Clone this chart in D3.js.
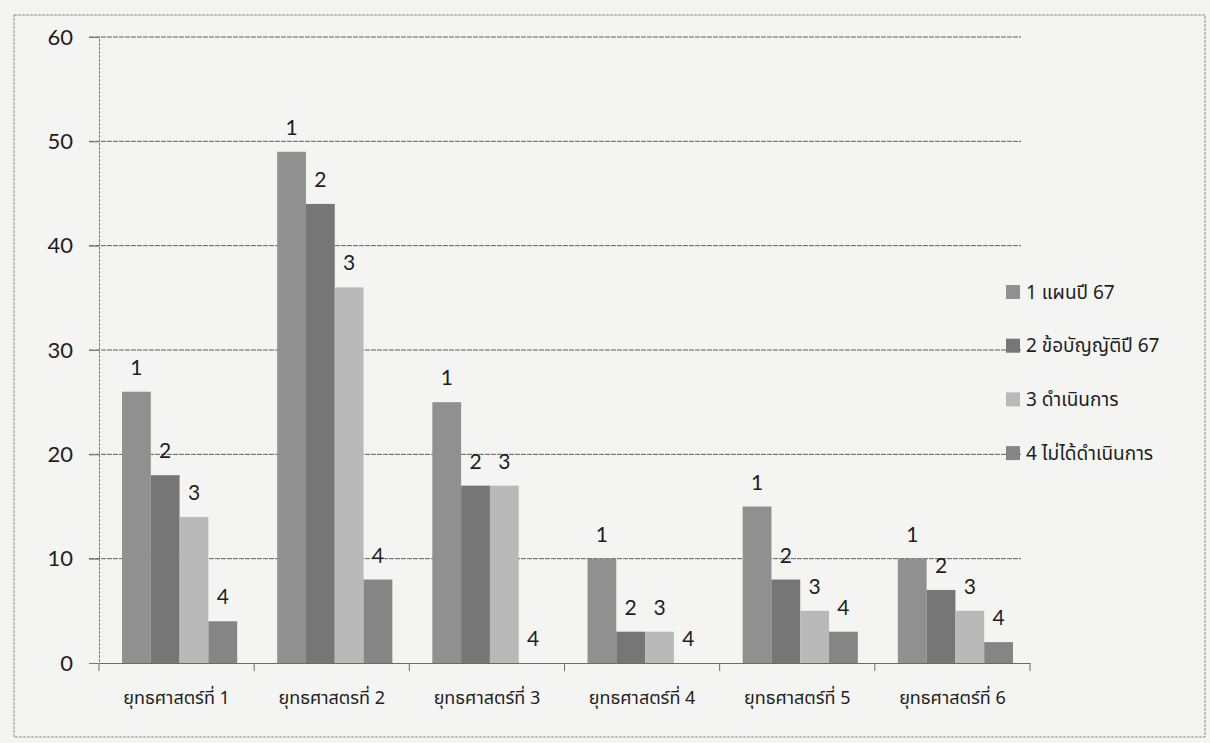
<!DOCTYPE html>
<html>
<head>
<meta charset="utf-8">
<script src="https://cdn.jsdelivr.net/npm/d3@7"></script>
<style>
  body { margin: 0; background: #f4f4f2; }
  svg { display: block; }
</style>
</head>
<body>
<svg width="1210" height="743"></svg>
<script>
const categories = ["ยุทธศาสตร์ที่ 1", "ยุทธศาสตรที่ 2", "ยุทธศาสตร์ที่ 3", "ยุทธศาสตร์ที่ 4", "ยุทธศาสตร์ที่ 5", "ยุทธศาสตร์ที่ 6"];
const seriesNames = ["1 แผนปี 67", "2 ข้อบัญญัติปี 67", "3 ดำเนินการ", "4 ไม่ได้ดำเนินการ"];
const seriesLabels = ["1", "2", "3", "4"];
const plan67 = [26, 49, 25, 10, 15, 10];
const budget67 = [18, 44, 17, 3, 8, 7];
const done = [14, 36, 17, 3, 5, 5];
const notDone = [4, 8, 0, 0, 3, 2];
const yTicks = [0, 10, 20, 30, 40, 50, 60];

const colors = ["#909090", "#767676", "#b9b9b9", "#858585"];
const allSeries = [plan67, budget67, done, notDone];

const svg = d3.select("svg");
const font = "Lato, 'Open Sans', sans-serif";
const thaiFont = "'Noto Sans Thai', 'Noto Sans', Arial, sans-serif";

// outer border of the chart
svg.append("rect")
  .attr("x", 14).attr("y", 15)
  .attr("width", 1191).attr("height", 722)
  .attr("fill", "none")
  .attr("stroke", "#8a8a8a")
  .attr("stroke-width", 1)
  .attr("stroke-dasharray", "3,1");

const margin = {top: 37, left: 99};
const width = 1030 - margin.left;
const height = 663 - margin.top;

const g = svg.append("g")
  .attr("transform", `translate(${margin.left},${margin.top})`);

const x0 = d3.scaleBand().domain(categories).range([0, width]).paddingInner(0).paddingOuter(0);
const x1 = d3.scaleBand().domain(d3.range(4)).range([23, x0.bandwidth() - 17]).padding(0);
const y = d3.scaleLinear().domain([0, 60]).range([height, 0]);

// gridlines
g.append("g")
  .selectAll("line")
  .data(yTicks.filter(d => d > 0))
  .enter().append("line")
    .attr("x1", -10).attr("x2", width - 9)
    .attr("y1", d => y(d)).attr("y2", d => y(d))
    .attr("stroke", "#5e5e5e")
    .attr("stroke-width", 1)
    .attr("stroke-dasharray", "5,1");

// y axis
const yAxis = g.append("g")
  .call(d3.axisLeft(y).tickValues(yTicks).tickSize(10).tickPadding(16));
yAxis.select(".domain").attr("stroke", "#7a7a7a").attr("stroke-dasharray", "3,1");
yAxis.selectAll(".tick line").attr("stroke", "#7a7a7a");
yAxis.selectAll("text")
  .style("font-family", font)
  .style("font-size", "22px")
  .attr("fill", "#1e1e1e");

// x axis
const xAxis = g.append("g")
  .attr("transform", `translate(0,${height})`)
  .call(d3.axisBottom(x0).tickSize(0).tickPadding(28));
xAxis.select(".domain").attr("stroke", "#6a6a6a");
xAxis.selectAll("text")
  .style("font-family", thaiFont)
  .style("font-size", "18px")
  .attr("fill", "#1e1e1e");
// tick marks between categories
xAxis.append("g")
  .selectAll("line")
  .data(d3.range(categories.length + 1))
  .enter().append("line")
    .attr("x1", i => i * x0.bandwidth()).attr("x2", i => i * x0.bandwidth())
    .attr("y1", 0).attr("y2", 8)
    .attr("stroke", "#6a6a6a");

// bars
const groups = g.selectAll(".cat")
  .data(categories)
  .enter().append("g")
    .attr("class", "cat")
    .attr("transform", d => `translate(${x0(d)},0)`);

groups.selectAll("rect")
  .data((d, ci) => allSeries.map((s, si) => ({si: si, v: s[ci]})))
  .enter().append("rect")
    .attr("x", d => x1(d.si))
    .attr("y", d => y(d.v))
    .attr("width", x1.bandwidth())
    .attr("height", d => height - y(d.v))
    .attr("fill", d => colors[d.si]);

groups.selectAll("text")
  .data((d, ci) => allSeries.map((s, si) => ({si: si, v: s[ci]})))
  .enter().append("text")
    .attr("x", d => x1(d.si) + x1.bandwidth() / 2)
    .attr("y", d => y(d.v) - 17)
    .attr("text-anchor", "middle")
    .style("font-family", font)
    .style("font-size", "21px")
    .attr("fill", "#1e1e1e")
    .text(d => seriesLabels[d.si]);

// legend
const legend = svg.append("g")
  .attr("transform", "translate(1006,292)");

const items = legend.selectAll("g")
  .data(seriesNames)
  .enter().append("g")
    .attr("transform", (d, i) => `translate(0,${i * 53.7})`);

items.append("rect")
  .attr("x", 0).attr("y", -7)
  .attr("width", 14).attr("height", 14)
  .attr("fill", (d, i) => colors[i]);

items.append("text")
  .attr("x", 20).attr("y", 0)
  .attr("dy", "0.35em")
  .style("font-family", thaiFont)
  .style("font-size", "19px")
  .attr("fill", "#1e1e1e")
  .text(d => d);
</script>
</body>
</html>
